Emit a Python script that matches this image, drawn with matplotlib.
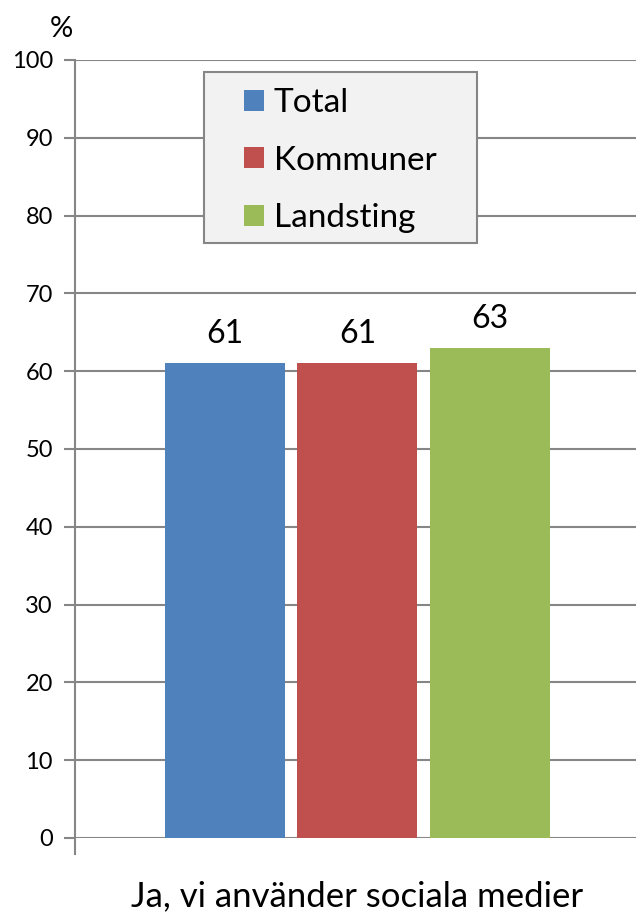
import matplotlib.pyplot as plt
from matplotlib.patches import Rectangle
import numpy as np

# Data
series = ["Total", "Kommuner", "Landsting"]
values = [61, 61, 63]
colors = ["#4F81BD", "#C0504D", "#9BBB59"]
category = "Ja, vi använder sociala medier"
yticks = [0, 10, 20, 30, 40, 50, 60, 70, 80, 90, 100]

plt.rcParams['font.family'] = ['Lato', 'DejaVu Sans']
grey = '#868686'

fig = plt.figure(figsize=(6.36, 9.14), dpi=100)
ax = fig.add_axes([0.118, 0.0832, 0.888, 0.8512])

x = np.arange(len(series)) - 1
bars = ax.bar(x, values, width=0.906, color=colors, label=series, zorder=3)
for b, v in zip(bars, values):
    ax.text(b.get_x() + b.get_width() / 2, v + 1.8, str(v), ha='center', va='bottom', fontsize=23)

ax.set_xlim(-2.132, 2.132)
ax.set_ylim(0, 100)
ax.set_yticks(yticks)
ax.tick_params(axis='y', labelsize=17, length=8, width=1.5, color=grey, pad=8)
ax.set_xticks([])
ax.grid(axis='y', color=grey, linewidth=1.5, zorder=0)
for s in ['top', 'right', 'bottom']:
    ax.spines[s].set_visible(False)
ax.spines['left'].set_color(grey)
ax.spines['left'].set_linewidth(1.5)
ax.spines['left'].set_bounds(-2, 100)
ax.spines['left'].set_zorder(4)

ax.text(0, -5.5, category, ha='center', va='top', fontsize=25)
fig.text(0.097, 0.968, "%", ha='center', va='center', fontsize=21)

# legend box
ax.add_patch(Rectangle((0.228, 0.7648), 0.4835, 0.2198, transform=ax.transAxes,
                       facecolor='#F2F2F2', edgecolor=grey, linewidth=1.5, zorder=5))
leg = ax.legend(handles=bars, labels=series, loc='upper left', bbox_to_anchor=(0.299, 0.964),
                fontsize=24, handlelength=0.6, handleheight=0.6, handletextpad=0.3,
                labelspacing=0.83, borderpad=0, frameon=False, borderaxespad=0)
leg.set_zorder(6)

plt.savefig("out.png", dpi=100)
